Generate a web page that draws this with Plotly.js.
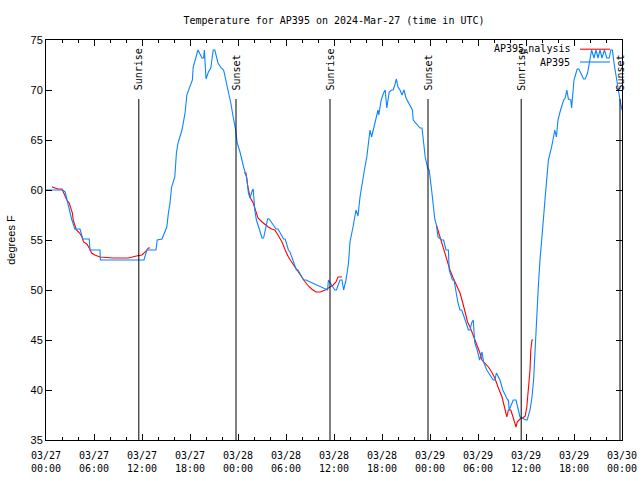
<!DOCTYPE html>
<html>
<head>
<meta charset="utf-8">
<script src="https://cdn.plot.ly/plotly-3.0.1.min.js"></script>
<style>html,body{margin:0;padding:0;background:#fff;}#chart{width:640px;height:480px;}</style>
</head>
<body>
<div id="chart"></div>
<script>
// ---- Data (hours after 2024-03-27 00:00 UTC) ----
const obsHours = [0,2.1,2.4,2.6,2.9,3.2,3.6,4.25,4.6,5.4,5.5,6.75,6.8,12.25,12.4,12.6,13.75,13.9,14.5,14.7,15.1,15.3,15.5,15.7,16.1,16.3,16.5,17,17.4,17.6,18,18.3,18.4,18.75,19.0,19.5,19.7,19.8,20,20.3,20.6,20.9,21.1,21.5,21.9,22.2,22.5,22.8,23.1,23.4,23.7,23.9,24.25,24.7,25.1,25.3,25.5,25.8,25.9,26.1,26.3,26.7,27,27.2,27.7,27.9,28.75,29.0,29.7,29.9,30.3,30.5,30.9,31.3,31.5,32.2,32.5,35.1,35.2,35.3,36.1,36.3,36.75,37,37.2,37.5,37.6,37.8,38,38.2,38.4,38.75,39,39.25,39.5,39.8,40.1,40.3,40.5,40.7,41,41.25,41.5,41.6,41.9,42.2,42.4,42.6,42.9,43.2,43.4,43.6,43.8,44,44.25,44.5,44.75,45,45.6,45.8,45.9,46.75,47,47.2,47.4,47.7,47.9,48.2,48.4,48.6,48.8,49,49.45,49.7,50,50.3,50.4,50.8,51,51.25,51.5,51.75,51.96,52.4,52.8,53,53.2,53.4,53.6,53.9,54.2,54.5,54.7,55.1,55.9,56.1,56.3,56.75,57.1,57.7,57.8,57.9,58.4,58.75,59,59.25,60,60.15,60.5,60.75,60.95,61.15,61.35,61.55,61.75,62.0,62.2,62.4,62.6,62.8,63.2,63.4,63.6,63.8,64,64.25,64.5,64.7,64.9,65.1,65.3,65.6,65.7,65.8,66,66.4,66.6,67.2,67.4,67.7,68,68.2,68.5,68.75,69,69.25,69.5,69.8,70.1,70.4,70.6,70.8,71,71.25,71.5,71.75,72];
const obsTemps = [60,60,59.8,59.2,58.1,57.1,56.1,56.1,55.1,55.1,54,54,53,53,53.5,54,54,55,55.1,55.5,56.3,57.7,58.7,60.3,61.3,63.7,64.7,66,67.8,69.5,70.3,71,72.3,73.2,74,73.2,73.2,74,71.1,71.8,72.2,74,74,72.7,72.2,72,71,70,68.7,67.3,66,64.7,63.8,62.3,61.2,59.7,59.2,60,60.1,58,57,56,55.2,55.2,57.1,57.1,56.1,56.1,55.1,55.1,54,53.8,53,52,52,51,51,50,50,51,50,50,51,51,50,51,51.5,52.6,54.8,55.5,56.4,58,57.4,59.3,60.7,62,63.3,65,66,65.3,66.3,67.3,68,67.5,69,69.7,70,68.2,69.8,70,70,70.5,71.1,70.3,70,69.5,70,69.2,68.2,68,67,66.2,66.2,64.7,63.3,62.2,62,60,58.7,57.1,56.5,55.3,55,55,54,54,52,51,51,49.7,48.7,48,48,47,46,46,46.7,47,44.7,44,43,43.8,42.8,42,41,41,41.7,41,40,39,39,38,39,39,38,37.3,37,37,38,39.3,41,44.5,47.5,50.5,53,55,57.3,59.3,61.3,63,64.3,65.3,66,65.3,67,67.8,68.5,69,69.2,70,69.1,69,68.2,69,71,72.1,72.1,71.1,71.1,71.7,73.1,74,73.2,74,73.2,74,73.2,74,73.2,73.2,74,74,72.7,71.3,70.3,69,68,67.3];

const anaHours = [0.75,1.1,1.5,2,2.2,2.4,2.6,2.9,3.1,3.3,3.4,3.6,3.8,4.2,4.5,4.7,5.1,5.4,5.7,6.1,6.75,8.4,10.3,11.3,12,12.4,12.8,13,18,24.75,25,25.2,25.5,25.9,26.25,26.5,27,27.4,27.8,28.2,28.6,29,29.5,29.9,30.3,30.7,31.1,31.5,31.9,32.4,32.8,33.2,33.75,34.3,34.9,35.5,35.9,36.25,36.5,37,42,48.8,49.25,49.7,50.1,50.5,50.9,51.3,51.75,52.1,52.4,52.7,53,53.4,53.8,54.2,54.5,54.9,55.3,55.7,56.1,56.5,57,57.4,57.6,57.8,58.1,58.3,58.6,58.75,58.9,59.25,59.6,59.9,60.1,60.3,60.5,60.6,60.75,60.9];
const anaTemps = [60.3,60.2,60.1,60.1,59.7,59.3,59,58.7,58.3,57.7,57,56.5,56,55.7,55.3,54.8,54.6,54.2,53.7,53.5,53.3,53.2,53.2,53.4,53.5,53.8,54.2,54.2,null,61.7,61.7,60.5,59.3,58.7,57.8,57.2,56.8,56.5,56.3,56.1,56,55.5,54.8,54,53.3,52.8,52.3,51.8,51.3,50.8,50.4,50.1,49.8,49.8,50,50.3,50.5,50.8,51.3,51.3,null,56.5,55.3,54.2,53,52,51.2,50.5,49.7,48.7,47.7,46.8,46.3,45.5,44.8,43.8,43,42.7,42.3,41.8,41.2,40.3,39.3,38,37.3,38,38,37.5,36.7,36.3,36.8,37.1,37.2,37.4,38.3,40,42,44,45,45];

const sunriseHours = [11.6, 35.5, 59.4];
const sunsetHours = [23.75, 47.75, 71.75];

const tickHours = [0,6,12,18,24,30,36,42,48,54,60,66,72];
const tickLabels = ["03/27<br>00:00","03/27<br>06:00","03/27<br>12:00","03/27<br>18:00","03/28<br>00:00","03/28<br>06:00","03/28<br>12:00","03/28<br>18:00","03/29<br>00:00","03/29<br>06:00","03/29<br>12:00","03/29<br>18:00","03/30<br>00:00"];

const seriesNames = ["AP395<sub>A</sub>nalysis", "AP395"];
const seriesColors = ["#ff0000", "#0a84ff"];

// ---- helpers ----
const base = Date.UTC(2024, 2, 27, 0, 0, 0);
function toDate(h) {
  return new Date(base + h * 3600000).toISOString().replace('T', ' ').slice(0, 19);
}
const mono = "DejaVu Sans Mono, monospace";
const sans = "Liberation Sans, Arial, sans-serif";

const traces = [
  {x: anaHours.map(toDate), y: anaTemps, type: 'scatter', mode: 'lines', name: 'AP395_Analysis',
   line: {color: seriesColors[0], width: 1.1}, connectgaps: false, hoverinfo: 'skip'},
  {x: obsHours.map(toDate), y: obsTemps, type: 'scatter', mode: 'lines', name: 'AP395',
   line: {color: seriesColors[1], width: 1.1}, hoverinfo: 'skip'}
];

const shapes = [];
const annotations = [];
function addEvent(h, label) {
  shapes.push({type: 'line', xref: 'x', yref: 'y', x0: toDate(h), x1: toDate(h), y0: 35, y1: 69.1,
               line: {color: 'black', width: 1}});
  annotations.push({xref: 'x', yref: 'y', x: toDate(h), y: 69.75, text: label, textangle: -90,
                    showarrow: false, xanchor: 'center', yanchor: 'bottom',
                    font: {family: mono, size: 10, color: 'black'}});
}
sunriseHours.forEach(h => addEvent(h, 'Sunrise'));
sunsetHours.forEach(h => addEvent(h, 'Sunset'));

// custom key: text right-aligned, sample line to its right (gnuplot style)
const keyY = [0.977, 0.945];
seriesNames.forEach((nm, i) => {
  annotations.push({xref: 'paper', yref: 'paper', x: 0.913, y: keyY[i], text: nm, showarrow: false,
                    xanchor: 'right', yanchor: 'middle', font: {family: mono, size: 10, color: 'black'}});
  shapes.push({type: 'line', xref: 'paper', yref: 'paper', x0: 0.927, x1: 0.979, y0: keyY[i], y1: keyY[i],
               line: {color: seriesColors[i], width: 1.1}});
});

const layout = {
  width: 640, height: 480,
  margin: {l: 46, r: 18, t: 40, b: 40},
  paper_bgcolor: 'white', plot_bgcolor: 'white',
  showlegend: false,
  title: {text: 'Temperature for AP395 on 2024-Mar-27 (time in UTC)', x: 0.5, xref: 'paper',
          y: 0.958, yanchor: 'middle', font: {family: mono, size: 10, color: 'black'}},
  xaxis: {
    type: 'date', range: [toDate(0), toDate(72)],
    tickmode: 'array', tickvals: tickHours.map(toDate), ticktext: tickLabels,
    ticks: 'inside', ticklen: 6, tickcolor: 'black', tickwidth: 1,
    ticklabelstandoff: 6,
    minor: {dtick: 2 * 3600000, ticks: 'inside', ticklen: 3, tickcolor: 'black', tickwidth: 1, showgrid: false},
    showline: true, linecolor: 'black', linewidth: 1, mirror: 'ticks',
    showgrid: false, zeroline: false,
    tickfont: {family: mono, size: 10, color: 'black'}
  },
  yaxis: {
    range: [35, 75], dtick: 5, tick0: 35,
    ticks: 'inside', ticklen: 6, tickcolor: 'black', tickwidth: 1,
    showline: true, linecolor: 'black', linewidth: 1, mirror: 'ticks',
    showgrid: false, zeroline: false,
    tickfont: {family: sans, size: 11, color: 'black'},
    title: {text: 'degrees F', font: {family: sans, size: 11, color: 'black'}, standoff: 12}
  },
  shapes: shapes,
  annotations: annotations
};

Plotly.newPlot('chart', traces, layout, {staticPlot: true, displayModeBar: false});
</script>
</body>
</html>
